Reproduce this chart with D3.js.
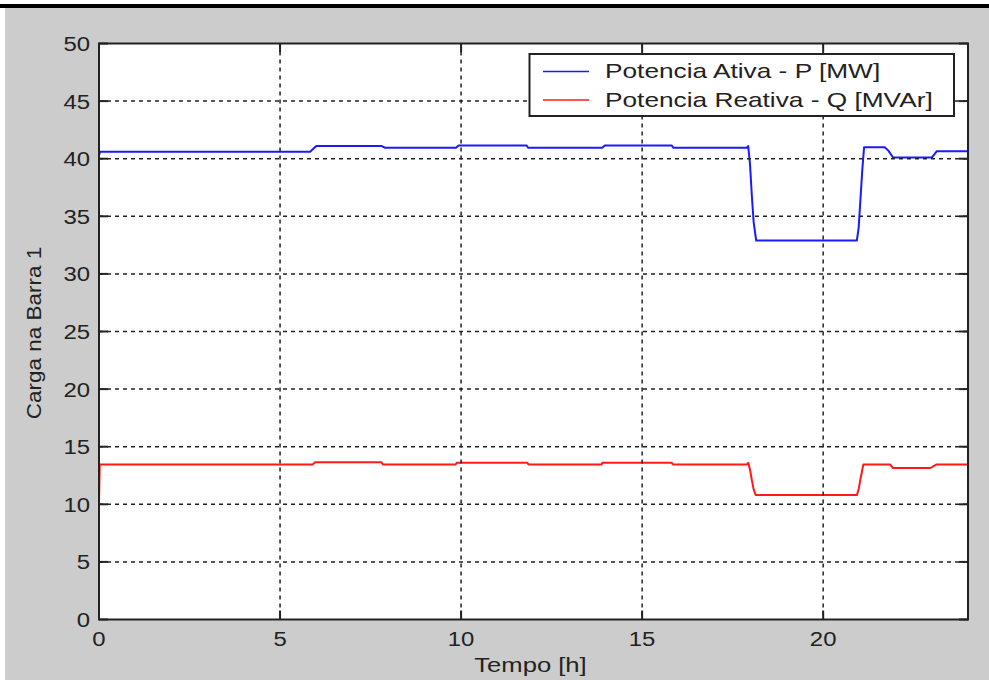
<!DOCTYPE html>
<html><head><meta charset="utf-8">
<script src="https://cdn.jsdelivr.net/npm/d3@7"></script>
<style>body{margin:0;background:#fff;overflow:hidden} svg{display:block}</style>
</head><body>
<svg id="c" width="989" height="680"></svg>
<script>
// ---- data ----
const timeP = [0, 0.03, 5.83, 6.0, 7.81, 7.9, 9.86, 9.93, 11.81, 11.85, 13.9, 13.97, 15.82, 15.86, 17.89, 17.93, 17.98, 18.03, 18.08, 18.15, 20.93, 20.98, 21.03, 21.08, 21.13, 21.7, 21.8, 21.93, 23.0, 23.14, 24];
const valP  = [40.3, 40.6, 40.6, 41.1, 41.1, 40.95, 40.95, 41.15, 41.15, 40.95, 40.95, 41.15, 41.15, 40.95, 40.95, 41.1, 39.5, 36.8, 34.5, 32.9, 32.9, 34.0, 36.5, 39.0, 41.0, 41.0, 40.7, 40.1, 40.1, 40.65, 40.65];
const timeQ = [0, 0.02, 5.9, 5.97, 7.8, 7.84, 9.85, 9.88, 11.83, 11.86, 13.88, 13.9, 15.82, 15.85, 17.89, 17.93, 17.98, 18.03, 18.08, 18.14, 20.93, 20.98, 21.03, 21.08, 21.11, 21.85, 21.93, 22.96, 23.12, 24];
const valQ  = [10.1, 13.45, 13.45, 13.65, 13.65, 13.45, 13.45, 13.6, 13.6, 13.45, 13.45, 13.6, 13.6, 13.45, 13.45, 13.6, 13.0, 12.1, 11.3, 10.8, 10.8, 11.3, 12.2, 13.0, 13.45, 13.45, 13.15, 13.15, 13.45, 13.45];
const xTicks = [0, 5, 10, 15, 20];
const yTicks = [0, 5, 10, 15, 20, 25, 30, 35, 40, 45, 50];
const seriesNames = ["Potencia Ativa - P [MW]", "Potencia Reativa - Q [MVAr]"];
const seriesColors = ["#1a1aff", "#ff1a1a"];
const xTitle = "Tempo [h]";
const yTitle = "Carga na Barra 1";

// ---- layout ----
const svg = d3.select("#c");
const FONT = "'Liberation Sans', Arial, sans-serif";
const L = 99, R = 968, T = 43.5, B = 619.5;
const x = d3.scaleLinear().domain([0, 24]).range([L, R]);
const y = d3.scaleLinear().domain([0, 50]).range([B, T]);
const SX = 1.18;

// background
svg.append("rect").attr("x", 0).attr("y", 0).attr("width", 989).attr("height", 680).attr("fill", "#fff");
svg.append("rect").attr("x", 5).attr("y", 8).attr("width", 984).attr("height", 672).attr("fill", "#cccccc");
svg.append("rect").attr("x", 0).attr("y", 4).attr("width", 989).attr("height", 4).attr("fill", "#000");

// plot area
svg.append("rect").attr("x", L).attr("y", T).attr("width", R - L).attr("height", B - T).attr("fill", "#fff");

// data lines
const mk = (ts, vs) => ts.map((t, i) => [t, vs[i]]);
const line = d3.line().x(d => x(d[0])).y(d => y(d[1]));
[[timeP, valP], [timeQ, valQ]].forEach((s, i) => {
  svg.append("path").attr("d", line(mk(s[0], s[1]))).attr("fill", "none")
    .attr("stroke", seriesColors[i]).attr("stroke-width", 2).attr("stroke-linejoin", "round");
});

// grid
const g = svg.append("g").attr("stroke", "#222").attr("stroke-width", 1.5).attr("stroke-dasharray", "4,4");
xTicks.filter(v => v > 0).forEach(v => g.append("line").attr("x1", x(v)).attr("x2", x(v)).attr("y1", T).attr("y2", B));
yTicks.filter(v => v > 0 && v < 50).forEach(v => g.append("line").attr("x1", L).attr("x2", R).attr("y1", y(v)).attr("y2", y(v)));

// box + ticks
const ax = svg.append("g").attr("stroke", "#222").attr("stroke-width", 2);
ax.append("rect").attr("x", L).attr("y", T).attr("width", R - L).attr("height", B - T).attr("fill", "none");
const TL = 9;
xTicks.forEach(v => {
  ax.append("line").attr("x1", x(v)).attr("x2", x(v)).attr("y1", B).attr("y2", B - TL);
  ax.append("line").attr("x1", x(v)).attr("x2", x(v)).attr("y1", T).attr("y2", T + TL);
});
yTicks.forEach(v => {
  ax.append("line").attr("x1", L).attr("x2", L + TL).attr("y1", y(v)).attr("y2", y(v));
  ax.append("line").attr("x1", R).attr("x2", R - TL).attr("y1", y(v)).attr("y2", y(v));
});

function txt(s, px, py, anchor, sx, rot) {
  return svg.append("text").text(s)
    .attr("transform", `translate(${px},${py})` + (rot ? ` rotate(${rot})` : "") + ` scale(${sx},1)`)
    .attr("text-anchor", anchor).attr("font-family", FONT).attr("font-size", 21).attr("fill", "#222");
}
// tick labels
yTicks.forEach(v => txt(String(v), 90, y(v) + 7.5, "end", 1.14));
xTicks.forEach(v => txt(String(v), x(v), 646, "middle", 1.14));
// titles
txt(xTitle, 530.5, 672, "middle", 1.22);
txt(yTitle, 41, 333, "middle", 1.07, -90);

// legend
const lg = svg.append("g");
lg.append("rect").attr("x", 529.5).attr("y", 54).attr("width", 424.5).attr("height", 62)
  .attr("fill", "#fff").attr("stroke", "#222").attr("stroke-width", 2);
seriesNames.forEach((n, i) => {
  const ly = 71.5 + i * 28.5;
  lg.append("line").attr("x1", 543).attr("x2", 589).attr("y1", ly).attr("y2", ly)
    .attr("stroke", seriesColors[i]).attr("stroke-width", 1.5);
  txt(n, 605, ly + 6.5, "start", 1.25);
});
</script>
</body></html>
